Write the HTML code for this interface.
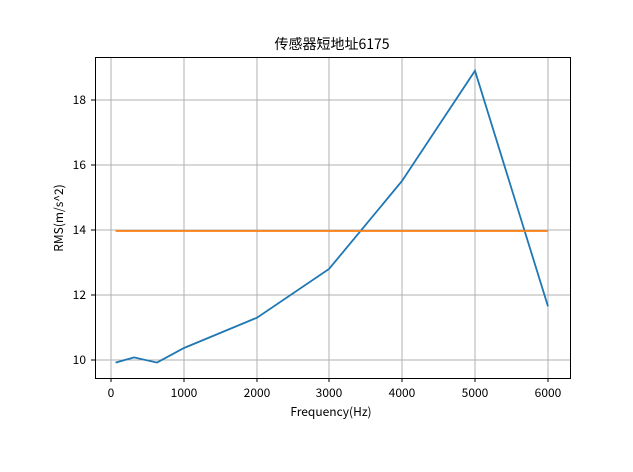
<!DOCTYPE html>
<html><head><meta charset="utf-8"><style>body{margin:0;background:#fff}svg{display:block}</style></head><body>
<svg width="633" height="472" xmlns="http://www.w3.org/2000/svg" font-family="WenQuanYi Zen Hei, Noto Sans CJK SC, sans-serif">
<rect width="633" height="472" fill="#fff"/>
<g stroke="#b0b0b0" stroke-width="1">
<line x1="111" y1="57" x2="111" y2="378"/><line x1="184" y1="57" x2="184" y2="378"/><line x1="257" y1="57" x2="257" y2="378"/><line x1="329" y1="57" x2="329" y2="378"/><line x1="402" y1="57" x2="402" y2="378"/><line x1="475" y1="57" x2="475" y2="378"/><line x1="548" y1="57" x2="548" y2="378"/>
<line x1="95" y1="360" x2="570" y2="360"/><line x1="95" y1="295" x2="570" y2="295"/><line x1="95" y1="230" x2="570" y2="230"/><line x1="95" y1="165" x2="570" y2="165"/><line x1="95" y1="100" x2="570" y2="100"/>
</g>
<polyline fill="none" stroke="#1f77b4" stroke-width="1.8" points="115.6,362.6 134,357.4 157,362.6 184,348 257,317.7 329,269 402,181 475,70.7 548,306.4"/>
<line x1="115.6" y1="231" x2="548" y2="231" stroke="#ff7f0e" stroke-width="1.8"/>
<rect x="95.5" y="57.5" width="475" height="321" fill="none" stroke="#000" stroke-width="1"/>
<g stroke="#000" stroke-width="1">
<line x1="111" y1="378" x2="111" y2="382"/><line x1="184" y1="378" x2="184" y2="382"/><line x1="257" y1="378" x2="257" y2="382"/><line x1="329" y1="378" x2="329" y2="382"/><line x1="402" y1="378" x2="402" y2="382"/><line x1="475" y1="378" x2="475" y2="382"/><line x1="548" y1="378" x2="548" y2="382"/>
<line x1="91" y1="360" x2="95" y2="360"/><line x1="91" y1="295" x2="95" y2="295"/><line x1="91" y1="230" x2="95" y2="230"/><line x1="91" y1="165" x2="95" y2="165"/><line x1="91" y1="100" x2="95" y2="100"/>
</g>
<g font-size="12" fill="#000" text-anchor="middle">
<text x="111" y="397">0</text><text x="184" y="397">1000</text><text x="257" y="397">2000</text><text x="329" y="397">3000</text><text x="402" y="397">4000</text><text x="475" y="397">5000</text><text x="548" y="397">6000</text>
<text x="331" y="416">Frequency(Hz)</text>
<text x="332" y="49" font-size="14">传感器短地址6175</text>
</g>
<g font-size="12" fill="#000" text-anchor="end">
<text x="86" y="364">10</text><text x="86" y="299">12</text><text x="86" y="234">14</text><text x="86" y="169">16</text><text x="86" y="104">18</text>
</g>
<text transform="translate(63,218) rotate(-90)" font-size="12" text-anchor="middle">RMS(m/s^2)</text>
</svg>
</body></html>
